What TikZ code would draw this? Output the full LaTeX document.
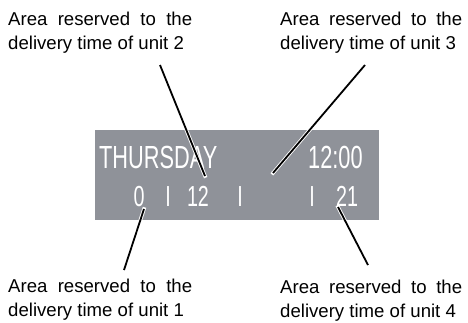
\documentclass[tikz,border=0pt]{standalone}
\usepackage{graphicx}
\usepackage{fontspec}
\setmainfont{Liberation Sans}
\definecolor{panelgray}{RGB}{143,146,153}
\newcommand\dsq[1]{\scalebox{0.68}[1]{#1}}
\tikzset{
  panel/.style={fill=panelgray, inner sep=0, minimum width=284pt, minimum height=90pt},
  dispbig/.style={inner sep=0, text=white, font=\fontsize{32}{32}\selectfont},
  dispsmall/.style={inner sep=0, text=white, font=\fontsize{29}{29}\selectfont},
  lbl/.style={inner sep=0, anchor=north west, align=left, font=\fontsize{18.6}{24}\selectfont},
  callout/.style={draw=black, line width=1.8pt,
    preaction={draw=white, line width=3.6pt, line cap=rect}}
}
\begin{document}
\begin{tikzpicture}[x=1pt,y=-1pt]
\useasboundingbox (0,0) rectangle (468,322);
\node[panel] (display) at (237,175) {};
% display texts
\node[dispbig, anchor=base west] (thu) at (99,168) {\dsq{THURSDAY}};
\node[dispbig, anchor=base west] (clock) at (308,168) {\dsq{12:00}};
\node[dispsmall, anchor=base] (n0) at (139,206) {\dsq{0}};
\node[dispsmall, anchor=base] (b1) at (168,206) {\dsq{I}};
\node[dispsmall, anchor=base] (n12) at (198,206) {\dsq{12}};
\node[dispsmall, anchor=base] (b2) at (240,206) {\dsq{I}};
\node[dispsmall, anchor=base] (b3) at (312,206) {\dsq{I}};
\node[dispsmall, anchor=base] (n21) at (347,206) {\dsq{21}};
% labels
\node[lbl] (lab2) at (8,11.7) {\makebox[184pt][s]{Area reserved to the}\\delivery time of unit 2};
\node[lbl] (lab3) at (280,11.7) {\makebox[182pt][s]{Area reserved to the}\\delivery time of unit 3};
\node[lbl] (lab1) at (8,278.7) {\makebox[184pt][s]{Area reserved to the}\\delivery time of unit 1};
\node[lbl] (lab4) at (280,279.7) {\makebox[182pt][s]{Area reserved to the}\\delivery time of unit 4};
% connector ends
\coordinate (s2) at (160,65);
\coordinate (e2) at (205,176);
\coordinate (s3) at (365,65);
\coordinate (e3) at (273,173);
\coordinate (e1) at (144,209);
\coordinate (s1) at (124,270);
\coordinate (e4) at (338,207);
\coordinate (s4) at (368,265);
\draw[callout] (s2) -- (e2);
\draw[callout] (s3) -- (e3);
\draw[callout] (s1) -- (e1);
\draw[callout] (s4) -- (e4);
\end{tikzpicture}
\end{document}
